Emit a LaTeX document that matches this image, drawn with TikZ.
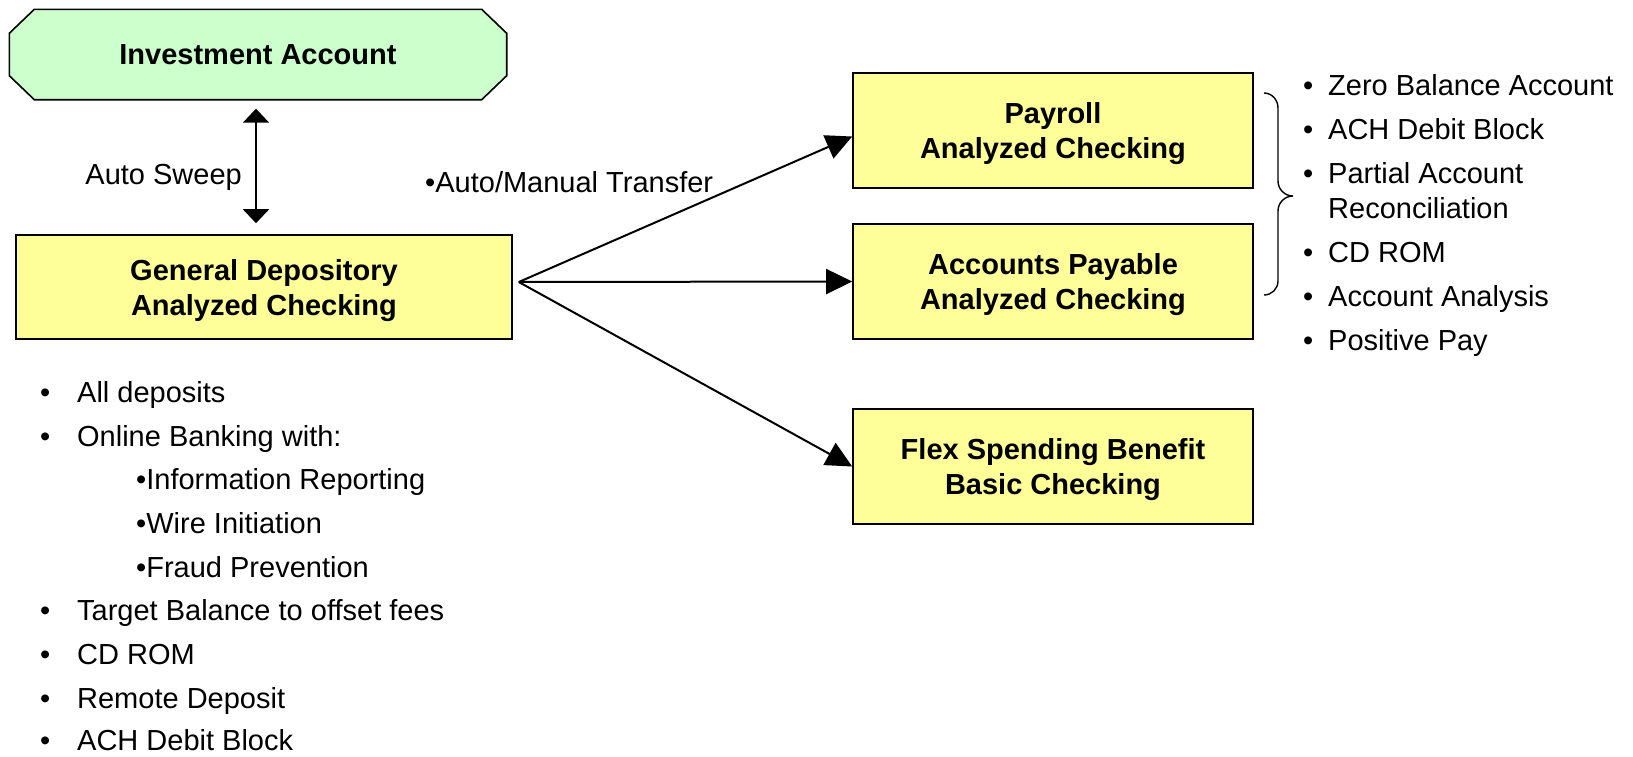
\documentclass[tikz,border=0pt]{standalone}
\usepackage{fontspec}
\setmainfont{Liberation Sans}
\usetikzlibrary{arrows.meta, calc, backgrounds}
\definecolor{acctGreenBg}{RGB}{204,255,204}
\definecolor{acctYellowBg}{RGB}{255,255,153}
\tikzset{
    treasury/.style={x=1pt, y=-1pt, line cap=butt, line join=miter,
                     font=\fontsize{29}{34}\selectfont},
    account/.style={draw=black, line width=1.6, fill=acctYellowBg,
                    inner sep=0pt, align=center, text depth=0pt,
                    font=\fontsize{29}{35}\selectfont\bfseries},
    subaccount/.style={account, minimum width=400, minimum height=115},
    invbox/.style={inner sep=0pt, minimum width=497, minimum height=90,
                   font=\fontsize{29}{35}\selectfont\bfseries},
    listitem/.style={anchor=base west, inner sep=0pt},
    sweep/.style={{Triangle[length=14pt, width=26pt]}-{Triangle[length=14pt, width=26pt]},
                  line width=2, shorten <=9pt, shorten >=11pt},
    xfer/.style={-{Triangle[length=26pt, width=25pt]}, line width=2},
    bracket/.style={line width=1.4},
}

\begin{document}
\begin{tikzpicture}[treasury]
\useasboundingbox (0,0) rectangle (1633,756);

% ─── Comptes ────────────────────────────────────────────────────────────
\node[invbox]  (invest) at (258,54.5) {Investment Account};
\node[account, minimum width=496, minimum height=104] (gen) at (264,287)
    {General Depository\\Analyzed Checking};
\node[subaccount] (pay)  at (1053,130.5) {Payroll\\Analyzed Checking};
\node[subaccount] (ap)   at (1053,281.5) {Accounts Payable\\Analyzed Checking};
\node[subaccount] (flex) at (1053,466.5) {Flex Spending Benefit\\Basic Checking};

% ─── Octogone du compte placement (arrière-plan) ────────────────────────
\begin{scope}[on background layer]
    \draw[line width=1.6, fill=acctGreenBg]
        ([xshift=25]invest.north west) -- ([xshift=-25]invest.north east)
        -- ([yshift=-24]invest.north east) -- ([yshift=24]invest.south east)
        -- ([xshift=-25]invest.south east) -- ([xshift=25]invest.south west)
        -- ([yshift=24]invest.south west) -- ([yshift=-24]invest.north west)
        -- cycle;
\end{scope}

% ─── Balayage ───────────────────────────────────────────────────────────
\draw[sweep] ([xshift=-2]invest.south) -- ([xshift=-2]invest.south |- gen.north);
\node[anchor=east, inner sep=0pt] (sweeplbl) at (242,177) {Auto Sweep};

% ─── Virements ──────────────────────────────────────────────────────────
\coordinate (fan) at ($(gen.east)+(6,-5)$);
\node[anchor=west, inner sep=0pt] (xferlbl) at (425,182) {\textbullet Auto/Manual Transfer};
\draw[xfer] (fan) -- ([yshift=-6]pay.west);
\draw[xfer] (fan) -- (ap.west);
\draw[xfer] (fan) -- (flex.west);

% ─── Accolade + services des comptes de décaissement ────────────────────
\draw[bracket] (1264,93) to[out=0, in=90] (1278,108) -- (1278,181)
    to[out=-90, in=180] (1293,196) to[out=180, in=90] (1278,211)
    -- (1278,281) to[out=-90, in=0] (1264,295);
\foreach \y/\t [count=\i] in {95/Zero Balance Account, 139/ACH Debit Block,
        183/Partial Account, 262/CD ROM, 306/Account Analysis, 350/Positive Pay}
    \node[listitem] (dsvc\i) at (1303,\y) {\makebox[25pt][l]{\textbullet}\t};
\node[listitem] (dsvcwrap) at (1328,218) {Reconciliation};

% ─── Services du compte général ─────────────────────────────────────────
\foreach \k/\t in {1/All deposits, 2/Online Banking with:,
        6/Target Balance to offset fees, 7/CD ROM, 8/Remote Deposit}
    \node[listitem] (gsvc\k) at (40,{359+43.65*\k}) {\makebox[37pt][l]{\textbullet}\t};
\node[listitem, text depth=0pt] (gsvc9) at (40,750) {\makebox[37pt][l]{\textbullet}ACH Debit Block};
\foreach \k/\t in {3/Information Reporting, 4/Wire Initiation, 5/Fraud Prevention}
    \node[listitem] (gsvc\k) at (136,{359+43.65*\k}) {\textbullet\t};

\end{tikzpicture}
\end{document}
